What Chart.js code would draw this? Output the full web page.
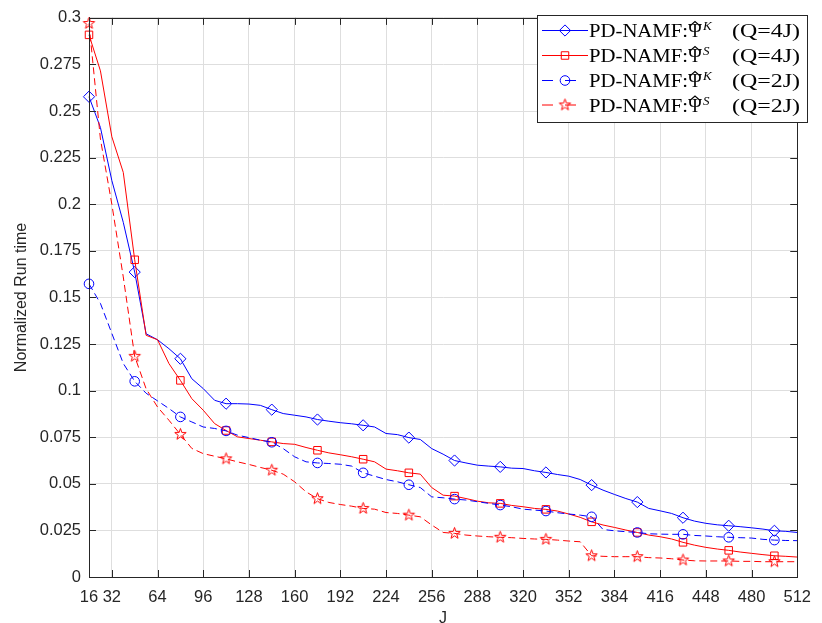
<!DOCTYPE html>
<html>
<head>
<meta charset="utf-8">
<script src="https://cdn.jsdelivr.net/npm/chart.js@4.4.0/dist/chart.umd.min.js"></script>
<style>
  body { margin: 0; background: #fff; }
  #wrap { width: 822px; height: 623px; }
</style>
</head>
<body>
<div id="wrap"><canvas id="runChart" width="822" height="623"></canvas></div>
<script>
// J values (sampled every 8)
const jValues = [16, 24, 32, 40, 48, 56, 64, 72, 80, 88, 96, 104, 112, 120, 128, 136,
  144, 152, 160, 168, 176, 184, 192, 200, 208, 216, 224, 232, 240, 248, 256, 264,
  272, 280, 288, 296, 304, 312, 320, 328, 336, 344, 352, 360, 368, 376, 384, 392,
  400, 408, 416, 424, 432, 440, 448, 456, 464, 472, 480, 488, 496, 504, 512];

const xTicks = [16, 32, 64, 96, 128, 160, 192, 224, 256, 288, 320, 352, 384, 416, 448, 480, 512];
const yTicks = [0, 0.025, 0.05, 0.075, 0.1, 0.125, 0.15, 0.175, 0.2, 0.225, 0.25, 0.275, 0.3];

const psiK4 = [0.2577, 0.2412, 0.2127, 0.1903, 0.1636, 0.1305, 0.1273, 0.1225, 0.1171, 0.1064, 0.1011, 0.0948, 0.0930, 0.0930, 0.0928, 0.0921,
  0.0898, 0.0877, 0.0868, 0.0859, 0.0845, 0.0836, 0.0828, 0.0822, 0.0814, 0.0805, 0.0770, 0.0764, 0.0748, 0.0738, 0.0689, 0.0659,
  0.0625, 0.0612, 0.0600, 0.0595, 0.0591, 0.0584, 0.0582, 0.0570, 0.0561, 0.0550, 0.0541, 0.0523, 0.0493, 0.0466, 0.0443, 0.0421,
  0.0402, 0.0368, 0.0355, 0.0341, 0.0318, 0.0300, 0.0288, 0.0280, 0.0275, 0.0270, 0.0264, 0.0257, 0.0248, 0.0245, 0.0239];

const psiS4 = [0.2909, 0.2716, 0.2362, 0.2171, 0.1702, 0.1297, 0.1273, 0.1145, 0.1055, 0.0957, 0.0895, 0.0823, 0.0786, 0.0752, 0.0743, 0.0734,
  0.0725, 0.0716, 0.0712, 0.0695, 0.0680, 0.0666, 0.0656, 0.0645, 0.0632, 0.0618, 0.0579, 0.0570, 0.0559, 0.0552, 0.0480, 0.0439,
  0.0434, 0.0421, 0.0407, 0.0398, 0.0395, 0.0384, 0.0377, 0.0368, 0.0363, 0.0354, 0.0338, 0.0320, 0.0296, 0.0279, 0.0266, 0.0252,
  0.0239, 0.0225, 0.0216, 0.0204, 0.0186, 0.0171, 0.0159, 0.0150, 0.0143, 0.0134, 0.0127, 0.0120, 0.0114, 0.0111, 0.0107];

const psiK2 = [0.1573, 0.1468, 0.1307, 0.1146, 0.1050, 0.0986, 0.0945, 0.0904, 0.0859, 0.0832, 0.0805, 0.0797, 0.0784, 0.0761, 0.0748, 0.0734,
  0.0723, 0.0689, 0.0645, 0.0618, 0.0612, 0.0609, 0.0605, 0.0595, 0.0559, 0.0541, 0.0523, 0.0511, 0.0495, 0.0480, 0.0430, 0.0425,
  0.0418, 0.0413, 0.0404, 0.0395, 0.0386, 0.0377, 0.0364, 0.0359, 0.0354, 0.0345, 0.0338, 0.0332, 0.0323, 0.0255, 0.0248, 0.0243,
  0.0239, 0.0232, 0.0230, 0.0229, 0.0229, 0.0223, 0.0220, 0.0216, 0.0213, 0.0211, 0.0209, 0.0202, 0.0198, 0.0196, 0.0195];

const psiS2 = [0.2970, 0.2350, 0.2000, 0.1610, 0.1184, 0.1010, 0.0912, 0.0841, 0.0765, 0.0690, 0.0662, 0.0648, 0.0634, 0.0618, 0.0604, 0.0588,
  0.0573, 0.0552, 0.0511, 0.0457, 0.0420, 0.0400, 0.0389, 0.0380, 0.0368, 0.0364, 0.0346, 0.0341, 0.0332, 0.0323, 0.0279, 0.0239,
  0.0234, 0.0225, 0.0220, 0.0216, 0.0213, 0.0211, 0.0207, 0.0204, 0.0202, 0.0198, 0.0193, 0.0189, 0.0114, 0.0111, 0.0109, 0.0109,
  0.0109, 0.0104, 0.0102, 0.0098, 0.0091, 0.0087, 0.0086, 0.0086, 0.0086, 0.0084, 0.0084, 0.0082, 0.0082, 0.0082, 0.0082];

const legendSup = ['K', 'S', 'K', 'S'];
const legendQ = ['(Q=4J)', '(Q=4J)', '(Q=2J)', '(Q=2J)'];

const AX = '#262626';
const GRID = '#dedede';
const TICK_FONT = { family: '"Liberation Sans", Arial, Helvetica, sans-serif', size: 16.5 };

// MATLAB style pentagram marker
function makeStar(color, r) {
  const s = Math.ceil(r * 2 + 3);
  const c = document.createElement('canvas');
  c.width = s; c.height = s;
  const g = c.getContext('2d');
  g.strokeStyle = color;
  g.lineWidth = 1;
  g.beginPath();
  for (let k = 0; k < 10; k++) {
    const rad = k % 2 === 0 ? r : r * 0.4;
    const a = -Math.PI / 2 + k * Math.PI / 5;
    const px = s / 2 + rad * Math.cos(a), py = s / 2 + rad * Math.sin(a);
    if (k === 0) g.moveTo(px, py); else g.lineTo(px, py);
  }
  g.closePath();
  g.stroke();
  return c;
}
const redStar = makeStar('#ff0000', 6);

function toPoints(vals) {
  return jValues.map((j, i) => ({ x: j, y: vals[i] }));
}

function markerEvery4(r) {
  return c => (c.dataIndex % 4 === 0 ? r : 0);
}

const series = [
  { data: psiK4, color: '#0000ff', dash: [], style: 'rectRot', r: 5.6, order: 4 },
  { data: psiS4, color: '#ff0000', dash: [], style: 'rect', r: 5.3, order: 3 },
  { data: psiK2, color: '#0000ff', dash: [7, 4], style: 'circle', r: 4.8, order: 2 },
  { data: psiS2, color: '#ff0000', dash: [7, 4], style: redStar, r: 5, order: 1 }
];

const datasets = series.map((s, i) => ({
  label: 'PD-NAMF ' + legendSup[i] + ' ' + legendQ[i],
  data: toPoints(s.data),
  borderColor: s.color,
  backgroundColor: 'rgba(0,0,0,0)',
  borderWidth: 1,
  borderDash: s.dash,
  pointStyle: s.style,
  pointRadius: markerEvery4(s.r),
  pointBorderColor: s.color,
  pointBackgroundColor: 'rgba(0,0,0,0)',
  pointBorderWidth: 1,
  tension: 0,
  clip: false,
  order: s.order
}));

// box around plot + inward ticks on all four sides
const boxTicks = {
  id: 'boxTicks',
  afterDatasetsDraw(chart) {
    const { ctx, chartArea: a, scales } = chart;
    const len = 7;
    ctx.save();
    ctx.strokeStyle = AX;
    ctx.lineWidth = 1;
    ctx.beginPath();
    xTicks.forEach(v => {
      const x = Math.round(scales.x.getPixelForValue(v)) + 0.5;
      ctx.moveTo(x, a.bottom); ctx.lineTo(x, a.bottom - len);
      ctx.moveTo(x, a.top); ctx.lineTo(x, a.top + len);
    });
    yTicks.forEach(v => {
      const y = Math.round(scales.y.getPixelForValue(v)) + 0.5;
      ctx.moveTo(a.left, y); ctx.lineTo(a.left + len, y);
      ctx.moveTo(a.right, y); ctx.lineTo(a.right - len, y);
    });
    ctx.stroke();
    ctx.strokeRect(Math.round(a.left) + 0.5, Math.round(a.top) + 0.5,
      Math.round(a.right - a.left), Math.round(a.bottom - a.top));
    ctx.restore();
  }
};

// legend with hat / superscript text
const mathLegend = {
  id: 'mathLegend',
  afterDraw(chart) {
    const { ctx } = chart;
    const bx = 537.5, by = 15.5, bw = 270, bh = 107;
    ctx.save();
    ctx.fillStyle = '#fff';
    ctx.fillRect(bx, by, bw, bh);
    ctx.strokeStyle = AX;
    ctx.lineWidth = 1;
    ctx.strokeRect(bx, by, bw, bh);
    const serif = '"Liberation Serif", "Times New Roman", serif';
    const baselines = [37, 62, 87, 111.5];
    series.forEach((s, i) => {
      const base = baselines[i];
      const ly = base - 6.5;
      // line sample
      ctx.strokeStyle = s.color;
      ctx.lineWidth = 1;
      ctx.setLineDash(s.dash.length ? [11, 12] : []);
      ctx.beginPath();
      ctx.moveTo(542, ly); ctx.lineTo(588, ly);
      ctx.stroke();
      ctx.setLineDash([]);
      ctx.fillStyle = 'rgba(0,0,0,0)';
      Chart.helpers.drawPoint(ctx, { pointStyle: s.style, radius: s.r, rotation: 0, borderWidth: 1 }, 565, ly);
      // text
      ctx.fillStyle = '#000';
      ctx.textBaseline = 'alphabetic';
      ctx.font = '19px ' + serif;
      drawFit(ctx, 'PD-NAMF:', 589, base, 99);
      drawFit(ctx, '\u03A8', 688, base, 14);
      // hat
      ctx.strokeStyle = '#000';
      ctx.lineWidth = 1.1;
      ctx.beginPath();
      ctx.moveTo(690.5, base - 11.5); ctx.lineTo(695, base - 15.5); ctx.lineTo(699.5, base - 11.5);
      ctx.stroke();
      ctx.font = 'italic 13px ' + serif;
      ctx.fillText(legendSup[i], 703, base - 7);
      ctx.font = '19px ' + serif;
      drawFit(ctx, legendQ[i], 732, base, 68);
    });
    ctx.restore();
  }
};

function drawFit(ctx, text, x, y, w) {
  const m = ctx.measureText(text).width;
  ctx.save();
  ctx.translate(x, y);
  ctx.scale(w / m, 1);
  ctx.fillText(text, 0, 0);
  ctx.restore();
}

const ctx = document.getElementById('runChart').getContext('2d');
new Chart(ctx, {
  type: 'line',
  data: { datasets: datasets },
  plugins: [boxTicks, mathLegend],
  options: {
    responsive: false,
    animation: false,
    devicePixelRatio: 1,
    events: [],
    layout: { padding: { left: 0, top: 17, right: 14, bottom: 0 } },
    plugins: { legend: { display: false }, tooltip: { enabled: false } },
    scales: {
      x: {
        type: 'linear',
        min: 16,
        max: 512,
        afterBuildTicks: scale => { scale.ticks = xTicks.map(v => ({ value: v })); },
        afterFit: scale => { scale.height = 46; },
        grid: { color: GRID, drawTicks: false },
        border: { display: true, color: AX },
        ticks: {
          autoSkip: false,
          maxRotation: 0,
          padding: 11,
          color: AX,
          font: TICK_FONT,
          callback: v => String(v)
        },
        title: {
          display: true,
          text: 'J',
          color: AX,
          font: { family: TICK_FONT.family, size: 16 },
          padding: { top: 0, bottom: -5 }
        }
      },
      y: {
        type: 'linear',
        min: 0,
        max: 0.3,
        afterBuildTicks: scale => { scale.ticks = yTicks.map(v => ({ value: v })); },
        afterFit: scale => { scale.width = 89; },
        grid: { color: GRID, drawTicks: false },
        border: { display: true, color: AX },
        ticks: {
          padding: 8,
          color: AX,
          font: TICK_FONT,
          callback: v => String(Number(v.toFixed(3)))
        },
        title: {
          display: true,
          text: 'Normalized Run time',
          color: AX,
          font: { family: TICK_FONT.family, size: 16 },
          padding: { top: 12, bottom: 0 }
        }
      }
    }
  }
});
</script>
</body>
</html>
